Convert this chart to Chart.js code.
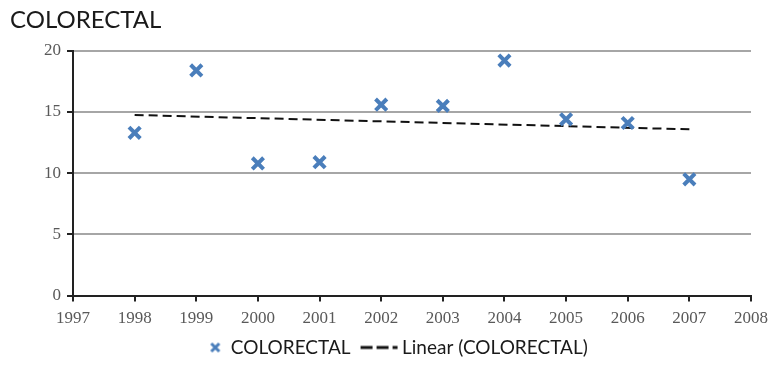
<!DOCTYPE html>
<html>
<head>
<meta charset="utf-8">
<script src="https://cdn.jsdelivr.net/npm/chart.js@4/dist/chart.umd.min.js"></script>
<style>
  html, body { margin: 0; padding: 0; background: #fff; }
  .wrap { width: 775px; height: 367px; }
</style>
</head>
<body>
<div class="wrap"><canvas id="chart" width="775" height="367"></canvas></div>
<script>
// anni e valori osservati
const anni = [1998, 1999, 2000, 2001, 2002, 2003, 2004, 2005, 2006, 2007];
const valori = [13.3, 18.4, 10.8, 10.9, 15.6, 15.5, 19.2, 14.4, 14.1, 9.5];
const yTicks = [0, 5, 10, 15, 20];

// retta di regressione (minimi quadrati) sui dati
const n = anni.length;
const mx = anni.reduce((a, b) => a + b, 0) / n;
const my = valori.reduce((a, b) => a + b, 0) / n;
let sxy = 0, sxx = 0;
for (let i = 0; i < n; i++) {
  sxy += (anni[i] - mx) * (valori[i] - my);
  sxx += (anni[i] - mx) * (anni[i] - mx);
}
const pend = sxy / sxx;
const trend = [anni[0], anni[n - 1]].map(x => ({ x: x, y: my + pend * (x - mx) }));

const punti = anni.map((a, i) => ({ x: a, y: valori[i] }));

const blu = '#4a7ebb';

// icone della legenda (larghe 40, centrate sul box)
function iconaCroce() {
  const c = document.createElement('canvas');
  c.width = 40; c.height = 12;
  const g = c.getContext('2d');
  g.strokeStyle = blu;
  g.lineWidth = 3;
  g.beginPath();
  g.moveTo(30, 2); g.lineTo(38, 10);
  g.moveTo(38, 2); g.lineTo(30, 10);
  g.stroke();
  return c;
}
function iconaTratteggio() {
  const c = document.createElement('canvas');
  c.width = 56; c.height = 6;
  const g = c.getContext('2d');
  g.strokeStyle = '#111';
  g.lineWidth = 3;
  g.beginPath();
  g.moveTo(16, 3); g.lineTo(28, 3);
  g.moveTo(32, 3); g.lineTo(44, 3);
  g.moveTo(48, 3); g.lineTo(53, 3);
  g.stroke();
  return c;
}
const icone = [iconaCroce(), iconaTratteggio()];

new Chart(document.getElementById('chart'), {
  type: 'scatter',
  data: {
    datasets: [
      {
        label: 'COLORECTAL',
        data: punti,
        pointStyle: 'crossRot',
        pointRadius: 8,
        pointBorderWidth: 4,
        borderColor: blu,
        backgroundColor: blu,
        showLine: false
      },
      {
        label: 'Linear (COLORECTAL)',
        data: trend,
        showLine: true,
        borderColor: '#111',
        backgroundColor: '#111',
        borderWidth: 2,
        borderDash: [9, 5],
        pointRadius: 0
      }
    ]
  },
  options: {
    responsive: false,
    animation: false,
    layout: { padding: { left: 10, right: 16, top: 6, bottom: 0 } },
    plugins: {
      title: {
        display: true,
        text: 'COLORECTAL',
        align: 'start',
        color: '#1a1a1a',
        font: { family: 'Lato', size: 24, weight: 'normal' },
        padding: { top: 0, bottom: 16 }
      },
      legend: {
        position: 'bottom',
        labels: {
          usePointStyle: true,
          pointStyleWidth: 40,
          boxHeight: 10,
          color: '#1a1a1a',
          font: { family: 'Lato', size: 19 },
          padding: 2,
          generateLabels: chart => chart.data.datasets.map((ds, i) => ({
            text: ds.label,
            pointStyle: icone[i],
            fontColor: '#1a1a1a',
            datasetIndex: i,
            hidden: false
          }))
        }
      },
      tooltip: { enabled: false }
    },
    scales: {
      x: {
        type: 'linear',
        min: 1997,
        max: 2008,
        ticks: {
          stepSize: 1,
          color: '#595959',
          font: { family: 'Liberation Serif', size: 17 },
          callback: v => String(v),
          padding: 7
        },
        grid: { drawOnChartArea: false, tickColor: '#222', tickLength: 6, lineWidth: 2 },
        border: { color: '#222', width: 2 }
      },
      y: {
        min: 0,
        max: 20,
        afterBuildTicks: axis => { axis.ticks = yTicks.map(v => ({ value: v })); },
        afterFit: axis => { axis.width = 63; },
        ticks: {
          color: '#595959',
          font: { family: 'Liberation Serif', size: 17 },
          padding: 6
        },
        grid: { color: '#a6a6a6', lineWidth: 2, tickColor: '#222', tickLength: 6 },
        border: { color: '#222', width: 2 }
      }
    }
  }
});
</script>
</body>
</html>
